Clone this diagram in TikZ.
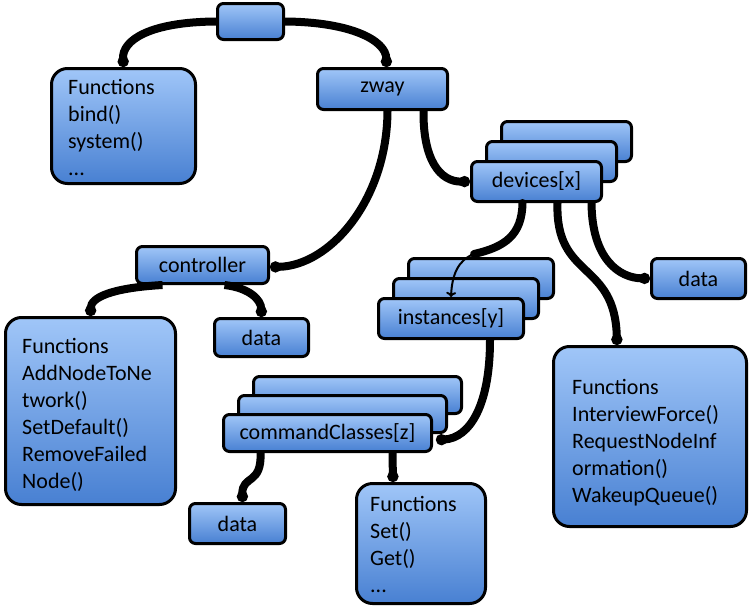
\documentclass[tikz,border=0pt]{standalone}
\usepackage{fontspec}
\setmainfont{Carlito}
\usetikzlibrary{arrows.meta,calc}
\definecolor{boxtop}{RGB}{160,198,248}
\definecolor{boxbot}{RGB}{72,128,210}
\begin{document}
\begin{tikzpicture}[x=1pt,y=-1pt,
  box/.style={draw=black, line width=3pt, rounded corners=6pt, top color=boxtop, bottom color=boxbot, inner sep=0pt, font=\fontsize{22}{27}\selectfont},
  bigbox/.style={box, rounded corners=16pt},
  devbox/.style={box, minimum width=130pt, minimum height=40pt},
  instbox/.style={box, minimum width=145pt, minimum height=40pt},
  ccbox/.style={box, minimum width=208pt, minimum height=37pt},
  ftxt/.style={anchor=north west, inner sep=0pt, align=left, font=\fontsize{22}{27}\selectfont},
  conn/.style={line width=8pt, -{Circle[length=11pt]}},
  thin/.style={line width=2pt, -{To[length=5pt,width=10pt]}}
]
\useasboundingbox (0,0) rectangle (750,608);

% stacked back boxes
\node[devbox] (dev3) at (566.5,141.5) {};
\node[devbox] (dev2) at (551.5,161.5) {};
\node[instbox] (inst3) at (481,278.5) {};
\node[instbox] (inst2) at (466,298.5) {};
\node[ccbox] (cc3) at (357.5,395) {};
\node[ccbox] (cc2) at (342.5,414) {};

% boxes
\node[box, minimum width=66pt, minimum height=36pt] (top) at (250.5,21.5) {};
\node[bigbox, minimum width=144pt, minimum height=115pt] (fbind) at (123.5,126) {};
\node[box, minimum width=130pt, minimum height=41pt] (zway) at (382.5,89) {zway};
\node[devbox] (dev) at (536.5,181.5) {devices[x]};
\node[box, minimum width=94pt, minimum height=40pt] (ddata) at (698.5,278.5) {data};
\node[bigbox, minimum width=193pt, minimum height=180pt] (ffun) at (650,436.5) {};
\node[instbox] (inst) at (451,318.5) {instances[y]};
\node[ccbox] (cc) at (327.5,433) {commandClasses[z]};
\node[box, minimum width=132pt, minimum height=37pt] (ctrl) at (202.5,265) {controller};
\node[box, minimum width=94pt, minimum height=38pt] (cdata) at (261.5,337.5) {data};
\node[bigbox, minimum width=170pt, minimum height=187pt] (cfun) at (90.5,411) {};
\node[box, minimum width=96pt, minimum height=40pt] (ccdata) at (237.5,523.5) {data};
\node[bigbox, minimum width=129pt, minimum height=120pt] (ccfun) at (421,543.5) {};

% box texts
\node[ftxt] (fbindt) at (68,79) {Functions\\bind()\\system()\\...};
\node[ftxt] (cfunt) at (22,338) {Functions\\AddNodeToNe\\twork()\\SetDefault()\\RemoveFailed\\Node()};
\node[ftxt] (ffunt) at (572,379) {Functions\\InterviewForce()\\RequestNodeInf\\ormation()\\WakeupQueue()};
\node[ftxt] (ccfunt) at (370,496) {Functions\\Set()\\Get()\\...};

% connectors
\draw[conn] (top.west) .. controls (150,22) and (122,40) .. (fbind.north);
\draw[conn] (top.east) .. controls (350,22) and (386,40) .. ($(zway.north)+(4,0)$);
\draw[conn] ($(zway.south)+(5,0)$) .. controls (387,200) and (330,266) .. ($(ctrl.east)+(0,2)$);
\draw[conn] ($(zway.south)+(41,0)$) .. controls (423,160) and (440,182) .. (dev.west);
\coordinate (di) at (474,254);
\draw[line width=8pt, line cap=round] ($(dev.south)+(-14,0)$) .. controls (522,235) and (505,247) .. (di);
\draw[thin] (di) .. controls (458,260) and (452,275) .. (inst.north);
\draw[conn] ($(dev.south)+(21,0)$) .. controls (555,280) and (615,260) .. ($(ffun.north)+(-33,0)$);
\draw[conn] ($(dev.south)+(55,0)$) .. controls (592,260) and (620,278) .. (ddata.west);
\draw[conn] ($(ctrl.south)+(-40,0)$) .. controls (110,288) and (91,298) .. (cfun.north);
\draw[conn] ($(ctrl.south)+(22,0)$) .. controls (250,288) and (261,300) .. (cdata.north);
\draw[conn] ($(inst.south)+(39,0)$) .. controls (490,405) and (470,438) .. ($(cc.east)+(3,7)$);
\draw[conn] ($(cc.south)+(-67,0)$) .. controls (262,485) and (242,475) .. ($(ccdata.north)+(5,0)$);
\draw[conn] ($(cc.south)+(65,0)$) -- ($(ccfun.north)+(-28,0)$);
\end{tikzpicture}
\end{document}
